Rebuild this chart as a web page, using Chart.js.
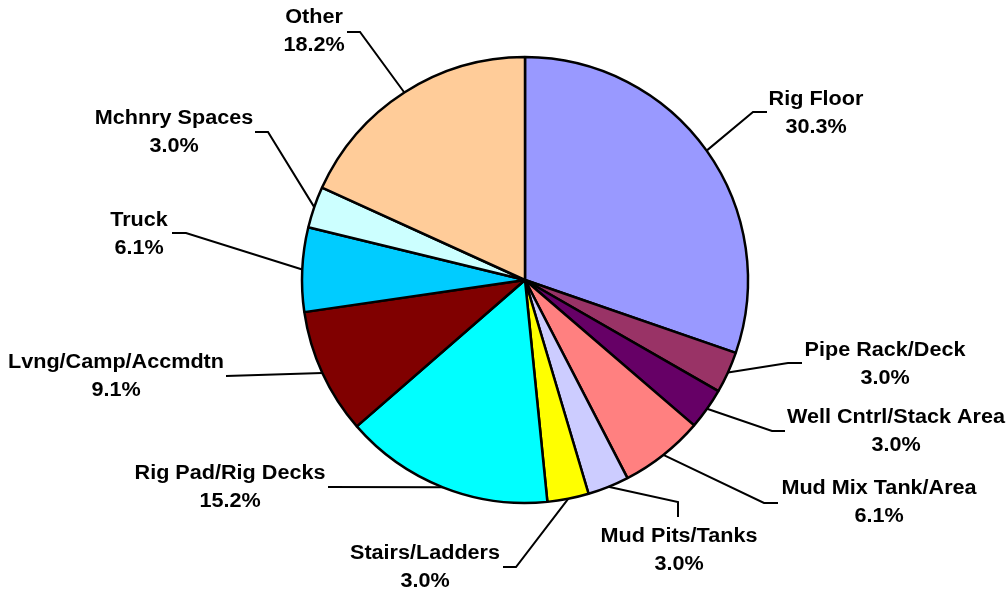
<!DOCTYPE html>
<html>
<head>
  <script src="https://cdn.jsdelivr.net/npm/chart.js"></script>
  <style>
    body { margin: 0; background: #fff; }
    #wrap { width: 1008px; height: 592px; }
  </style>
</head>
<body>
  <div id="wrap">
    <canvas id="areaChart" width="1008" height="592"></canvas>
  </div>
  <script>
    const categories = ['Rig Floor', 'Pipe Rack/Deck', 'Well Cntrl/Stack Area', 'Mud Mix Tank/Area',
      'Mud Pits/Tanks', 'Stairs/Ladders', 'Rig Pad/Rig Decks', 'Lvng/Camp/Accmdtn',
      'Truck', 'Mchnry Spaces', 'Other'];
    const percents = [30.3, 3.0, 3.0, 6.1, 3.0, 3.0, 15.2, 9.1, 6.1, 3.0, 18.2];
    const sliceColors = ['#9999FF', '#993366', '#660066', '#FF8080', '#CCCCFF', '#FFFF00',
      '#00FFFF', '#800000', '#00CCFF', '#CCFFFF', '#FFCC99'];

    // where each label sits and the bends of its leader line (after the point on the arc)
    const labelLayout = [
      { x: 816, y: 99,  bends: [[753, 112], [767, 112]] },
      { x: 885, y: 350, bends: [[788, 363], [802, 363]] },
      { x: 896, y: 417, bends: [[772, 431], [785, 431]] },
      { x: 879, y: 488, bends: [[764, 503], [778, 503]] },
      { x: 679, y: 536, bends: [[678, 502], [678, 517]] },
      { x: 425, y: 553, bends: [[516, 567], [503, 567]] },
      { x: 230, y: 473, bends: [[328, 487]] },
      { x: 116, y: 362, bends: [[226, 376]] },
      { x: 139, y: 220, bends: [[186, 233], [172, 233]] },
      { x: 174, y: 118, bends: [[268, 132], [255, 132]] },
      { x: 314, y: 17,  bends: [[360, 32], [347, 32]] }
    ];

    const leaderLabels = {
      id: 'leaderLabels',
      afterDraw(chart) {
        const ctx = chart.ctx;
        const arcs = chart.getDatasetMeta(0).data;
        ctx.save();
        ctx.strokeStyle = '#000';
        ctx.lineWidth = 2;
        arcs.forEach((arc, i) => {
          const mid = (arc.startAngle + arc.endAngle) / 2;
          const ax = arc.x + Math.cos(mid) * arc.outerRadius;
          const ay = arc.y + Math.sin(mid) * arc.outerRadius;
          const lay = labelLayout[i];
          ctx.beginPath();
          ctx.moveTo(ax, ay);
          lay.bends.forEach(p => ctx.lineTo(p[0], p[1]));
          ctx.stroke();

          ctx.fillStyle = '#000';
          ctx.font = 'bold 20px "Liberation Sans", Arial, sans-serif';
          ctx.textAlign = 'center';
          ctx.textBaseline = 'middle';
          const lines = [categories[i], percents[i].toFixed(1) + '%'];
          lines.forEach((t, k) => {
            ctx.save();
            ctx.translate(lay.x, lay.y + k * 28);
            ctx.scale(1.08, 1);
            ctx.fillText(t, 0, 0);
            ctx.restore();
          });
        });
        ctx.restore();
      }
    };

    new Chart(document.getElementById('areaChart'), {
      type: 'pie',
      data: {
        labels: categories,
        datasets: [{
          data: percents,
          backgroundColor: sliceColors,
          borderColor: '#000',
          borderWidth: 2.5,
          radius: 223
        }]
      },
      options: {
        responsive: false,
        animation: false,
        layout: { padding: { left: 42, right: 0, top: 0, bottom: 32 } },
        plugins: {
          legend: { display: false },
          tooltip: { enabled: false }
        }
      },
      plugins: [leaderLabels]
    });
  </script>
</body>
</html>
